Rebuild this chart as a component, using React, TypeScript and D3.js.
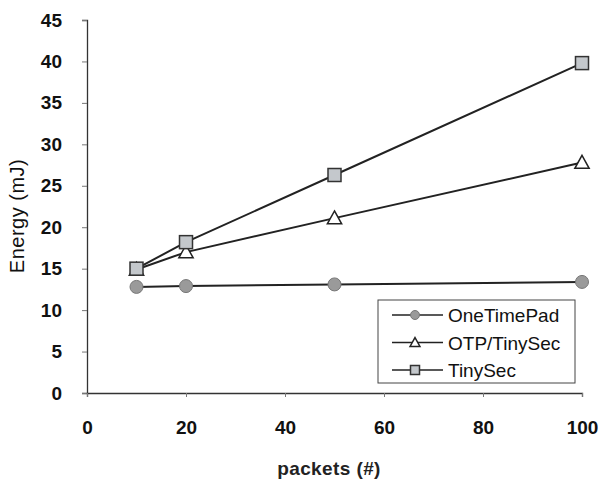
import * as d3 from "d3";
import { useEffect, useRef } from "react";

const packets = [10, 20, 50, 100];
const oneTimePad = [12.8, 12.9, 13.1, 13.4];
const otpTinySec = [14.9, 17.0, 21.1, 27.8];
const tinySec = [15.0, 18.2, 26.3, 39.8];
const seriesNames = ["OneTimePad", "OTP/TinySec", "TinySec"];
const xTicks = [0, 20, 40, 60, 80, 100];
const yTicks = [0, 5, 10, 15, 20, 25, 30, 35, 40, 45];

const FONT = "Liberation Sans, Arial, sans-serif";

type G = d3.Selection<SVGGElement, unknown, null, undefined>;

function drawMarker(g: G, kind: number, x: number, y: number, s: number) {
    if (kind === 0) {
        g.append("circle")
            .attr("cx", x)
            .attr("cy", y)
            .attr("r", s * 0.5)
            .attr("fill", "#9a9a9a")
            .attr("stroke", "#777")
            .attr("stroke-width", 1);
    } else if (kind === 1) {
        const h = s * 0.55;
        g.append("path")
            .attr("d", `M${x},${y - h} L${x + h},${y + h * 0.8} L${x - h},${y + h * 0.8} Z`)
            .attr("fill", "#fff")
            .attr("stroke", "#222")
            .attr("stroke-width", 1.5);
    } else {
        g.append("rect")
            .attr("x", x - s / 2)
            .attr("y", y - s / 2)
            .attr("width", s)
            .attr("height", s)
            .attr("fill", "#c4c8cc")
            .attr("stroke", "#333")
            .attr("stroke-width", 1.5);
    }
}

function drawChart(svgElement: SVGSVGElement) {
    const svg = d3.select(svgElement);
    svg.selectAll("*").remove();

    const x = d3.scaleLinear().domain([0, 100]).range([87, 582]);
    const y = d3.scaleLinear().domain([0, 45]).range([393, 20]);

    // Y axis
    const yAxis = svg
        .append("g")
        .attr("transform", `translate(${x(0)},0)`)
        .call(d3.axisLeft(y).tickValues(yTicks).tickSize(5).tickPadding(20));
    yAxis.select(".domain").attr("stroke", "#333").attr("stroke-width", 1.3);
    yAxis.selectAll("line").attr("stroke", "#777");
    yAxis
        .selectAll("text")
        .style("font-family", FONT)
        .style("font-size", "19px")
        .style("font-weight", "bold")
        .style("fill", "#111");

    // X axis
    const xAxis = svg
        .append("g")
        .attr("transform", `translate(0,${y(0)})`)
        .call(d3.axisBottom(x).tickValues(xTicks).tickSize(4).tickPadding(24));
    xAxis.select(".domain").attr("stroke", "#333").attr("stroke-width", 1.3);
    xAxis.selectAll("line").attr("stroke", "#777");
    xAxis
        .selectAll("text")
        .style("font-family", FONT)
        .style("font-size", "19px")
        .style("font-weight", "bold")
        .style("fill", "#111");

    // Axis labels
    svg.append("text")
        .attr("transform", `translate(24, 216) rotate(-90)`)
        .attr("text-anchor", "middle")
        .style("font-family", FONT)
        .style("font-size", "20px")
        .style("letter-spacing", "0.5px")
        .style("fill", "#111")
        .text("Energy (mJ)");

    svg.append("text")
        .attr("x", 329)
        .attr("y", 475)
        .attr("text-anchor", "middle")
        .style("font-family", FONT)
        .style("font-size", "19px")
        .style("font-weight", "bold")
        .style("letter-spacing", "0.4px")
        .style("fill", "#222")
        .text("packets (#)");

    const allSeries = [oneTimePad, otpTinySec, tinySec];
    const line = d3
        .line<number>()
        .x((_, i) => x(packets[i]))
        .y((d) => y(d));

    const plot = svg.append("g");
    allSeries.forEach((values) => {
        plot.append("path")
            .attr("d", line(values)!)
            .attr("fill", "none")
            .attr("stroke", "#222")
            .attr("stroke-width", 2);
    });
    allSeries.forEach((values, k) => {
        values.forEach((v, i) => drawMarker(plot, k, x(packets[i]), y(v), 13));
    });

    // Legend
    const legend = svg.append("g").attr("transform", "translate(378,300)");
    legend.append("rect")
        .attr("width", 197)
        .attr("height", 83)
        .attr("fill", "#fff")
        .attr("stroke", "#444")
        .attr("stroke-width", 1);
    seriesNames.forEach((name, k) => {
        const ly = 15 + k * 27.5;
        legend.append("line")
            .attr("x1", 14)
            .attr("x2", 65)
            .attr("y1", ly)
            .attr("y2", ly)
            .attr("stroke", "#222")
            .attr("stroke-width", 1.5);
        drawMarker(legend, k, 37, ly, 9);
        legend.append("text")
            .attr("x", 70)
            .attr("y", ly + 7)
            .style("font-family", FONT)
            .style("font-size", "19px")
            .style("fill", "#111")
            .text(name);
    });
}

export default function App() {
    const ref = useRef<SVGSVGElement | null>(null);

    useEffect(() => {
        if (ref.current) drawChart(ref.current);
    }, []);

    return (
        <svg
            ref={ref}
            width={602}
            height={480}
            style={{ position: "absolute", left: 0, top: 0, background: "#fff" }}
        ></svg>
    );
}
